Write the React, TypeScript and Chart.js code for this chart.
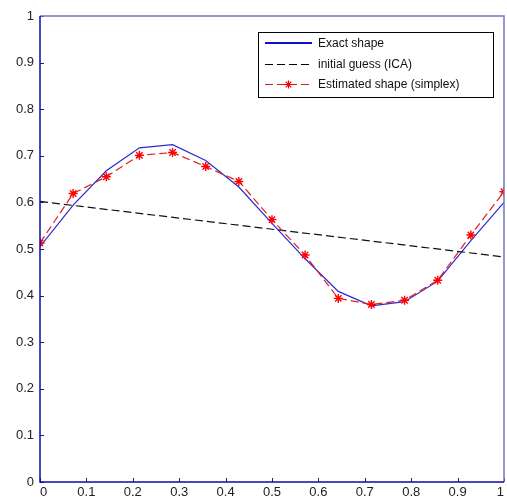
import React, { useEffect, useRef } from "react";
import { Chart, registerables } from "chart.js";

Chart.register(...registerables);

const xPoints = [0, 0.0714, 0.1429, 0.2143, 0.2857, 0.3571, 0.4286, 0.5, 0.5714, 0.6429, 0.7143, 0.7857, 0.8571, 0.9286, 1];
const exactShape = [0.505, 0.594, 0.668, 0.717, 0.724, 0.69, 0.633, 0.555, 0.479, 0.409, 0.378, 0.387, 0.431, 0.518, 0.6];
const estimatedShape = [0.513, 0.619, 0.655, 0.701, 0.707, 0.677, 0.645, 0.563, 0.487, 0.394, 0.381, 0.39, 0.433, 0.53, 0.623];
const guessX = [0, 1];
const guessY = [0.602, 0.483];
const legendLabels = ["Exact shape", "initial guess (ICA)", "Estimated shape (simplex)"];

const FONT = "'Liberation Sans', Arial, Helvetica, sans-serif";

const boxPlugin = {
  id: "matlabBox",
  afterDraw(chart: any) {
    const { ctx, chartArea: a, scales } = chart;
    ctx.save();
    ctx.strokeStyle = "#1a1a9a";
    ctx.lineWidth = 1;
    ctx.beginPath();
    for (let i = 0; i <= 10; i++) {
      const v = i / 10;
      const px = Math.round(scales.x.getPixelForValue(v)) + 0.5;
      ctx.moveTo(px, a.bottom);
      ctx.lineTo(px, a.bottom - 4);
      const py = Math.round(scales.y.getPixelForValue(v)) + 0.5;
      ctx.moveTo(a.left, py);
      ctx.lineTo(a.left + 4, py);
    }
    ctx.stroke();
    ctx.lineWidth = 1.5;
    ctx.strokeStyle = "#7474c4";
    ctx.beginPath();
    ctx.moveTo(a.left, a.top);
    ctx.lineTo(a.right, a.top);
    ctx.lineTo(a.right, a.bottom);
    ctx.stroke();
    ctx.strokeStyle = "#0c0ca8";
    ctx.beginPath();
    ctx.moveTo(a.left, a.top);
    ctx.lineTo(a.left, a.bottom);
    ctx.lineTo(a.right, a.bottom);
    ctx.stroke();

    const lx = 258.5, ly = 32.5, lw = 235, lh = 65;
    ctx.fillStyle = "#ffffff";
    ctx.fillRect(lx, ly, lw, lh);
    ctx.strokeStyle = "#000000";
    ctx.lineWidth = 1;
    ctx.strokeRect(lx, ly, lw, lh);
    const rows = [43, 64, 84];
    const sx0 = 265, sx1 = 312;
    ctx.strokeStyle = "#1010c8";
    ctx.lineWidth = 2;
    ctx.setLineDash([]);
    ctx.beginPath();
    ctx.moveTo(sx0, rows[0]);
    ctx.lineTo(sx1, rows[0]);
    ctx.stroke();
    ctx.strokeStyle = "#000000";
    ctx.lineWidth = 1;
    ctx.setLineDash([8, 4]);
    ctx.beginPath();
    ctx.moveTo(sx0, rows[1] + 0.5);
    ctx.lineTo(sx1, rows[1] + 0.5);
    ctx.stroke();
    ctx.strokeStyle = "#d02020";
    ctx.beginPath();
    ctx.moveTo(sx0, rows[2] + 0.5);
    ctx.lineTo(sx1, rows[2] + 0.5);
    ctx.stroke();
    ctx.setLineDash([]);
    const cx = (sx0 + sx1) / 2, cy = rows[2] + 0.5, r = 4;
    ctx.strokeStyle = "#ee0000";
    ctx.lineWidth = 1.2;
    ctx.beginPath();
    ctx.moveTo(cx - r, cy); ctx.lineTo(cx + r, cy);
    ctx.moveTo(cx, cy - r); ctx.lineTo(cx, cy + r);
    const d = r * 0.707;
    ctx.moveTo(cx - d, cy - d); ctx.lineTo(cx + d, cy + d);
    ctx.moveTo(cx - d, cy + d); ctx.lineTo(cx + d, cy - d);
    ctx.stroke();

    ctx.fillStyle = "#111111";
    ctx.font = `12px ${FONT}`;
    ctx.textBaseline = "middle";
    ctx.textAlign = "left";
    legendLabels.forEach((t, i) => ctx.fillText(t, 318, rows[i] + 1));
    ctx.restore();
  },
};

export default function App() {
  const ref = useRef<HTMLCanvasElement | null>(null);
  useEffect(() => {
    if (!ref.current) return;
    const chart = new Chart(ref.current, {
      type: "scatter",
      data: {
        datasets: [
          {
            label: legendLabels[0],
            data: xPoints.map((x, i) => ({ x, y: exactShape[i] })),
            showLine: true,
            borderColor: "#2a2ad0",
            borderWidth: 1.2,
            pointRadius: 0,
            order: 3,
          },
          {
            label: legendLabels[1],
            data: guessX.map((x, i) => ({ x, y: guessY[i] })),
            showLine: true,
            borderColor: "#111111",
            borderWidth: 1.2,
            borderDash: [8, 4],
            pointRadius: 0,
            order: 2,
          },
          {
            label: legendLabels[2],
            data: xPoints.map((x, i) => ({ x, y: estimatedShape[i] })),
            showLine: true,
            borderColor: "#e02020",
            borderWidth: 1.2,
            borderDash: [8, 4],
            pointStyle: "star",
            pointRadius: 4.5,
            pointBorderColor: "#ff0000",
            pointBorderWidth: 1.4,
            pointBackgroundColor: "#ff0000",
            order: 1,
          },
        ],
      },
      options: {
        animation: false,
        responsive: false,
        maintainAspectRatio: false,
        layout: { autoPadding: false, padding: { left: 0, right: 2, top: 16, bottom: 0 } },
        plugins: { legend: { display: false }, tooltip: { enabled: false } },
        scales: {
          x: {
            type: "linear",
            min: 0,
            max: 1,
            grid: { display: false, drawTicks: false },
            border: { display: false },
            ticks: {
              stepSize: 0.1,
              padding: 3,
              align: "inner",
              color: "#222222",
              font: { size: 13, family: FONT },
              maxRotation: 0,
              autoSkip: false,
              callback: (v: any) => String(Math.round(Number(v) * 10) / 10),
            },
            afterFit: (s: any) => { s.height = 17; },
          },
          y: {
            type: "linear",
            min: 0,
            max: 1,
            grid: { display: false, drawTicks: false },
            border: { display: false },
            ticks: {
              stepSize: 0.1,
              padding: 6,
              color: "#222222",
              font: { size: 13, family: FONT },
              autoSkip: false,
              callback: (v: any) => String(Math.round(Number(v) * 10) / 10),
            },
            afterFit: (s: any) => { s.width = 40; },
          },
        },
      },
      plugins: [boxPlugin],
    });
    return () => chart.destroy();
  }, []);
  return (
    <div style={{ position: "fixed", left: 0, top: 0, width: 507, height: 499, background: "#fff" }}>
      <canvas ref={ref} width={507} height={499} style={{ width: 507, height: 499, display: "block" }} />
    </div>
  );
}
